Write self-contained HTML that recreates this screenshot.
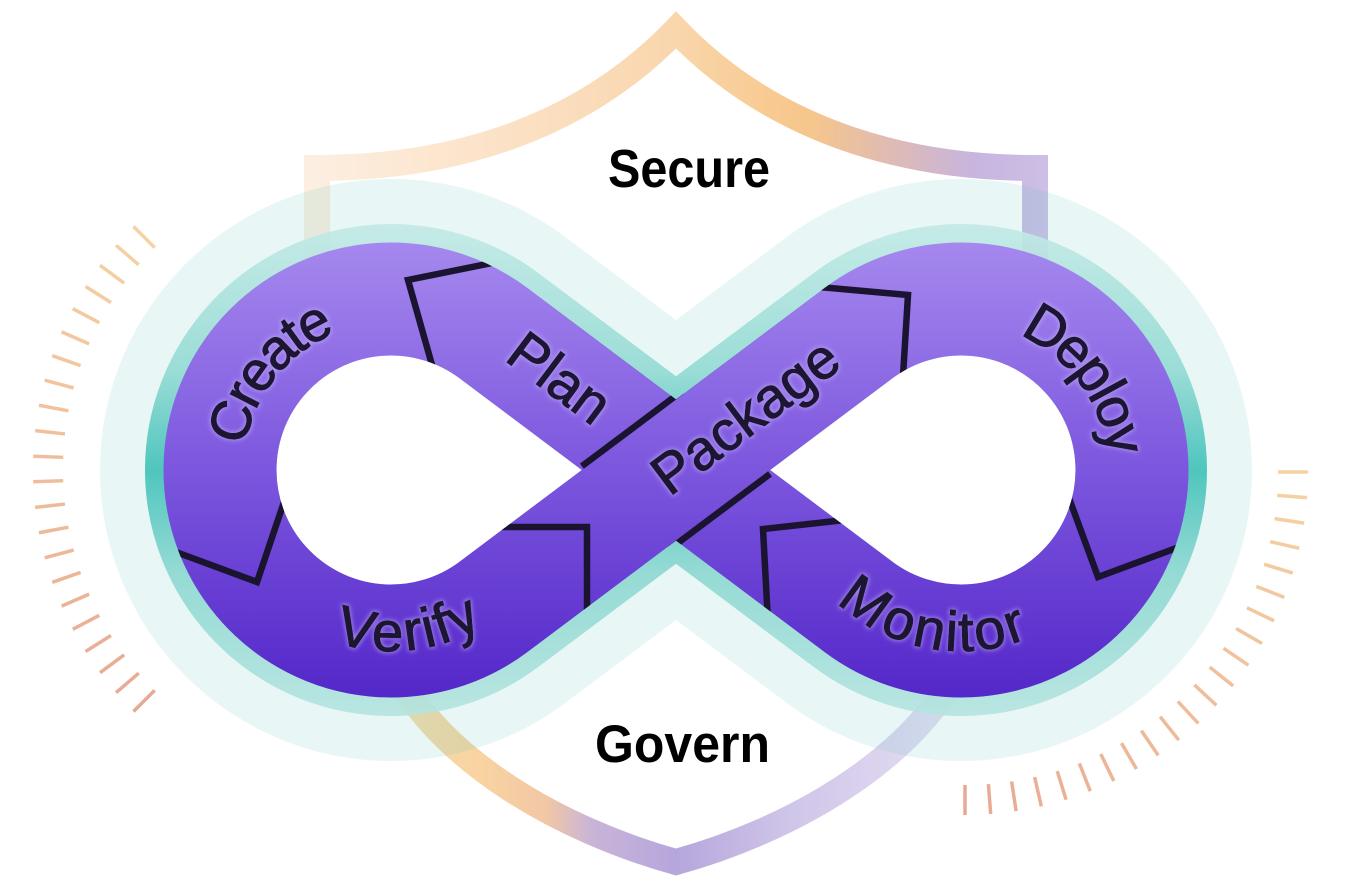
<!DOCTYPE html>
<html><head><meta charset="utf-8">
<style>
html,body{margin:0;padding:0;background:#fff;width:1345px;height:893px;overflow:hidden}
svg{display:block}
.lbl{font-family:"Liberation Sans",Arial,sans-serif;font-size:56px;fill:#1c1532;stroke:#1c1532;stroke-width:1.2px;}
.big{font-family:"Liberation Sans",Arial,sans-serif;font-weight:bold;fill:#000;}
</style></head>
<body>
<svg width="1345" height="893" viewBox="0 0 1345 893" xmlns="http://www.w3.org/2000/svg">
<defs>
  <linearGradient id="pg" gradientUnits="userSpaceOnUse" x1="0" y1="243" x2="0" y2="697">
    <stop offset="0" stop-color="#a588ee"/>
    <stop offset="0.5" stop-color="#7c56de"/>
    <stop offset="1" stop-color="#5427c9"/>
  </linearGradient>
  <linearGradient id="rg" gradientUnits="userSpaceOnUse" x1="0" y1="220" x2="0" y2="720">
    <stop offset="0" stop-color="#c4eae6"/>
    <stop offset="0.3" stop-color="#93dad3"/>
    <stop offset="0.5" stop-color="#3ec0b8"/>
    <stop offset="0.7" stop-color="#8bd7d0"/>
    <stop offset="1" stop-color="#b6e4e0"/>
  </linearGradient>
  <linearGradient id="tg" gradientUnits="userSpaceOnUse" x1="303" y1="0" x2="1049" y2="0">
    <stop offset="0" stop-color="#fcefe2"/>
    <stop offset="0.2" stop-color="#fce5cd"/>
    <stop offset="0.4" stop-color="#fadbb8"/>
    <stop offset="0.5" stop-color="#f9d6ac"/>
    <stop offset="0.62" stop-color="#f8cb92"/>
    <stop offset="0.68" stop-color="#f6c68c"/>
    <stop offset="0.8" stop-color="#dcbab8"/>
    <stop offset="0.9" stop-color="#c7b5df"/>
    <stop offset="1" stop-color="#cdbfe6"/>
  </linearGradient>
  <linearGradient id="bg" gradientUnits="userSpaceOnUse" x1="395" y1="0" x2="957" y2="0">
    <stop offset="0" stop-color="#f3ddac"/>
    <stop offset="0.15" stop-color="#f9d4a1"/>
    <stop offset="0.27" stop-color="#f1c7a6"/>
    <stop offset="0.35" stop-color="#c9b4d8"/>
    <stop offset="0.5" stop-color="#b6a6dc"/>
    <stop offset="0.7" stop-color="#cfc5e9"/>
    <stop offset="1" stop-color="#e6e0f3"/>
  </linearGradient>
  <mask id="pm" maskUnits="userSpaceOnUse" x="0" y="0" width="1345" height="893">
    <path d="M493.6 333.2 L858.4 606.8 A171 171 0 1 0 858.4 333.2 L493.6 606.8 A171 171 0 1 1 493.6 333.2 Z" fill="none" stroke="#fff" stroke-width="113"/>
  </mask>
  <filter id="glow" x="-20%" y="-30%" width="140%" height="160%">
    <feMorphology in="SourceAlpha" operator="dilate" radius="1" result="d"/>
    <feGaussianBlur in="d" stdDeviation="2" result="b"/>
    <feFlood flood-color="#c9b6ff" flood-opacity="0.55"/>
    <feComposite in2="b" operator="in" result="g"/>
    <feMerge><feMergeNode in="g"/><feMergeNode in="SourceGraphic"/></feMerge>
  </filter>
  <path id="pCreate" d="M264.6 580.7 A168 168 0 0 1 471.9 322.8"/>
  <path id="pDeploy" d="M888.5 319.6 A167 167 0 0 1 1081.4 585.9"/>
  <path id="pVerify" d="M236.2 514.4 A161 161 0 0 0 551.6 481.2"/>
  <path id="pMonitor" d="M800 467.2 A161 161 0 0 0 1111.3 527.7"/>
</defs>

<rect width="1345" height="893" fill="#fff"/>

<!-- left ticks -->
<g transform="translate(376 469)" stroke-width="3.5" fill="none">
  <line x1="313" y1="0" x2="343" y2="0" transform="rotate(135)" stroke="#e8a994"/>
  <line x1="313" y1="0" x2="343" y2="0" transform="rotate(139.29)" stroke="#e9ab95"/>
  <line x1="313" y1="0" x2="343" y2="0" transform="rotate(143.57)" stroke="#e9ad95"/>
  <line x1="313" y1="0" x2="343" y2="0" transform="rotate(147.86)" stroke="#eaaf96"/>
  <line x1="313" y1="0" x2="343" y2="0" transform="rotate(152.14)" stroke="#ebb197"/>
  <line x1="313" y1="0" x2="343" y2="0" transform="rotate(156.43)" stroke="#ebb398"/>
  <line x1="313" y1="0" x2="343" y2="0" transform="rotate(160.71)" stroke="#ecb598"/>
  <line x1="313" y1="0" x2="343" y2="0" transform="rotate(165)" stroke="#edb799"/>
  <line x1="313" y1="0" x2="343" y2="0" transform="rotate(169.29)" stroke="#edb99a"/>
  <line x1="313" y1="0" x2="343" y2="0" transform="rotate(173.57)" stroke="#eebb9a"/>
  <line x1="313" y1="0" x2="343" y2="0" transform="rotate(177.86)" stroke="#efbd9b"/>
  <line x1="313" y1="0" x2="343" y2="0" transform="rotate(182.14)" stroke="#efbe9c"/>
  <line x1="313" y1="0" x2="343" y2="0" transform="rotate(186.43)" stroke="#f0c09d"/>
  <line x1="313" y1="0" x2="343" y2="0" transform="rotate(190.71)" stroke="#f1c29d"/>
  <line x1="313" y1="0" x2="343" y2="0" transform="rotate(195)" stroke="#f1c49e"/>
  <line x1="313" y1="0" x2="343" y2="0" transform="rotate(199.29)" stroke="#f2c69f"/>
  <line x1="313" y1="0" x2="343" y2="0" transform="rotate(203.57)" stroke="#f3c89f"/>
  <line x1="313" y1="0" x2="343" y2="0" transform="rotate(207.86)" stroke="#f3caa0"/>
  <line x1="313" y1="0" x2="343" y2="0" transform="rotate(212.14)" stroke="#f4cca1"/>
  <line x1="313" y1="0" x2="343" y2="0" transform="rotate(216.43)" stroke="#f5cea2"/>
  <line x1="313" y1="0" x2="343" y2="0" transform="rotate(220.71)" stroke="#f5d0a2"/>
  <line x1="313" y1="0" x2="343" y2="0" transform="rotate(225)" stroke="#f6d2a3"/>
</g>
<!-- right ticks -->
<g transform="translate(965 472)" stroke-width="3.5" fill="none">
  <line x1="313" y1="0" x2="343" y2="0" transform="rotate(0)" stroke="#f6d2a3"/>
  <line x1="313" y1="0" x2="343" y2="0" transform="rotate(4.29)" stroke="#f5d0a2"/>
  <line x1="313" y1="0" x2="343" y2="0" transform="rotate(8.57)" stroke="#f5cea2"/>
  <line x1="313" y1="0" x2="343" y2="0" transform="rotate(12.86)" stroke="#f4cca1"/>
  <line x1="313" y1="0" x2="343" y2="0" transform="rotate(17.14)" stroke="#f3caa0"/>
  <line x1="313" y1="0" x2="343" y2="0" transform="rotate(21.43)" stroke="#f3c89f"/>
  <line x1="313" y1="0" x2="343" y2="0" transform="rotate(25.71)" stroke="#f2c69f"/>
  <line x1="313" y1="0" x2="343" y2="0" transform="rotate(30)" stroke="#f1c49e"/>
  <line x1="313" y1="0" x2="343" y2="0" transform="rotate(34.29)" stroke="#f1c29d"/>
  <line x1="313" y1="0" x2="343" y2="0" transform="rotate(38.57)" stroke="#f0c09d"/>
  <line x1="313" y1="0" x2="343" y2="0" transform="rotate(42.86)" stroke="#efbe9c"/>
  <line x1="313" y1="0" x2="343" y2="0" transform="rotate(47.14)" stroke="#efbd9b"/>
  <line x1="313" y1="0" x2="343" y2="0" transform="rotate(51.43)" stroke="#eebb9a"/>
  <line x1="313" y1="0" x2="343" y2="0" transform="rotate(55.71)" stroke="#edb99a"/>
  <line x1="313" y1="0" x2="343" y2="0" transform="rotate(60)" stroke="#edb799"/>
  <line x1="313" y1="0" x2="343" y2="0" transform="rotate(64.29)" stroke="#ecb598"/>
  <line x1="313" y1="0" x2="343" y2="0" transform="rotate(68.57)" stroke="#ebb398"/>
  <line x1="313" y1="0" x2="343" y2="0" transform="rotate(72.86)" stroke="#ebb197"/>
  <line x1="313" y1="0" x2="343" y2="0" transform="rotate(77.14)" stroke="#eaaf96"/>
  <line x1="313" y1="0" x2="343" y2="0" transform="rotate(81.43)" stroke="#e9ad95"/>
  <line x1="313" y1="0" x2="343" y2="0" transform="rotate(85.71)" stroke="#e9ab95"/>
  <line x1="313" y1="0" x2="343" y2="0" transform="rotate(90)" stroke="#e8a994"/>
</g>

<!-- shield bands -->
<path d="M317 290 L317 168 C450 168 580 130 676 30 C772 130 902 168 1035 168 L1035 290" fill="none" stroke="url(#tg)" stroke-width="26" stroke-linejoin="miter" stroke-miterlimit="10"/>
<path d="M395 670 C440 760 560 830 676 862 C792 830 912 760 957 670" fill="none" stroke="url(#bg)" stroke-width="26" stroke-linejoin="miter" stroke-miterlimit="10"/>

<!-- halo -->
<path d="M493.6 333.2 L858.4 606.8 A171 171 0 1 0 858.4 333.2 L493.6 606.8 A171 171 0 1 1 493.6 333.2 Z" fill="none" stroke="rgba(92,200,192,0.14)" stroke-width="240"/>
<!-- ring -->
<path d="M493.6 333.2 L858.4 606.8 A171 171 0 1 0 858.4 333.2 L493.6 606.8 A171 171 0 1 1 493.6 333.2 Z" fill="none" stroke="url(#rg)" stroke-opacity="0.9" stroke-width="150"/>
<!-- holes -->
<path d="M459.7 378.4 L581.8 470 L459.7 561.6 A114.5 114.5 0 1 1 459.7 378.4 Z" fill="#fff"/>
<path d="M892.3 378.4 L770.2 470 L892.3 561.6 A114.5 114.5 0 1 0 892.3 378.4 Z" fill="#fff"/>
<!-- purple loop -->
<path d="M493.6 333.2 L858.4 606.8 A171 171 0 1 0 858.4 333.2 L493.6 606.8 A171 171 0 1 1 493.6 333.2 Z" fill="none" stroke="url(#pg)" stroke-width="113"/>

<!-- dividers -->
<g mask="url(#pm)" fill="none" stroke="#1a1430" stroke-width="6.5" stroke-linejoin="miter" stroke-miterlimit="10">
  <polyline points="512,259 408,280 434,372"/>
  <polyline points="165,548 257,582 286,496"/>
  <polyline points="490,527 587,527 587,625"/>
  <polyline points="808,286 908,295 902,392"/>
  <polyline points="1066,490 1098,577 1190,543"/>
  <polyline points="768,622 763,529 854,519"/>
  <line x1="581.9" y1="466.2" x2="681.9" y2="391.2"/>
  <line x1="670.1" y1="548.8" x2="770" y2="473.9"/>
</g>

<!-- labels -->
<g filter="url(#glow)">
  <text class="lbl" dominant-baseline="central"><textPath href="#pCreate" startOffset="50%" text-anchor="middle">Create</textPath></text>
  <text class="lbl" dominant-baseline="central"><textPath href="#pDeploy" startOffset="50%" text-anchor="middle">Deploy</textPath></text>
  <text class="lbl" dominant-baseline="central"><textPath href="#pVerify" startOffset="50%" text-anchor="middle">Verify</textPath></text>
  <text class="lbl" dominant-baseline="central"><textPath href="#pMonitor" startOffset="50%" text-anchor="middle">Monitor</textPath></text>
  <text class="lbl" text-anchor="middle" dominant-baseline="central" transform="translate(560 377.5) rotate(36.87)">Plan</text>
  <text class="lbl" text-anchor="middle" dominant-baseline="central" transform="translate(745 416) rotate(-36.87)">Package</text>
</g>

<text class="big" x="689" y="187" font-size="54" text-anchor="middle" textLength="162" lengthAdjust="spacingAndGlyphs">Secure</text>
<text class="big" x="682.5" y="762" font-size="53" text-anchor="middle" textLength="175" lengthAdjust="spacingAndGlyphs">Govern</text>
</svg>
</body></html>
